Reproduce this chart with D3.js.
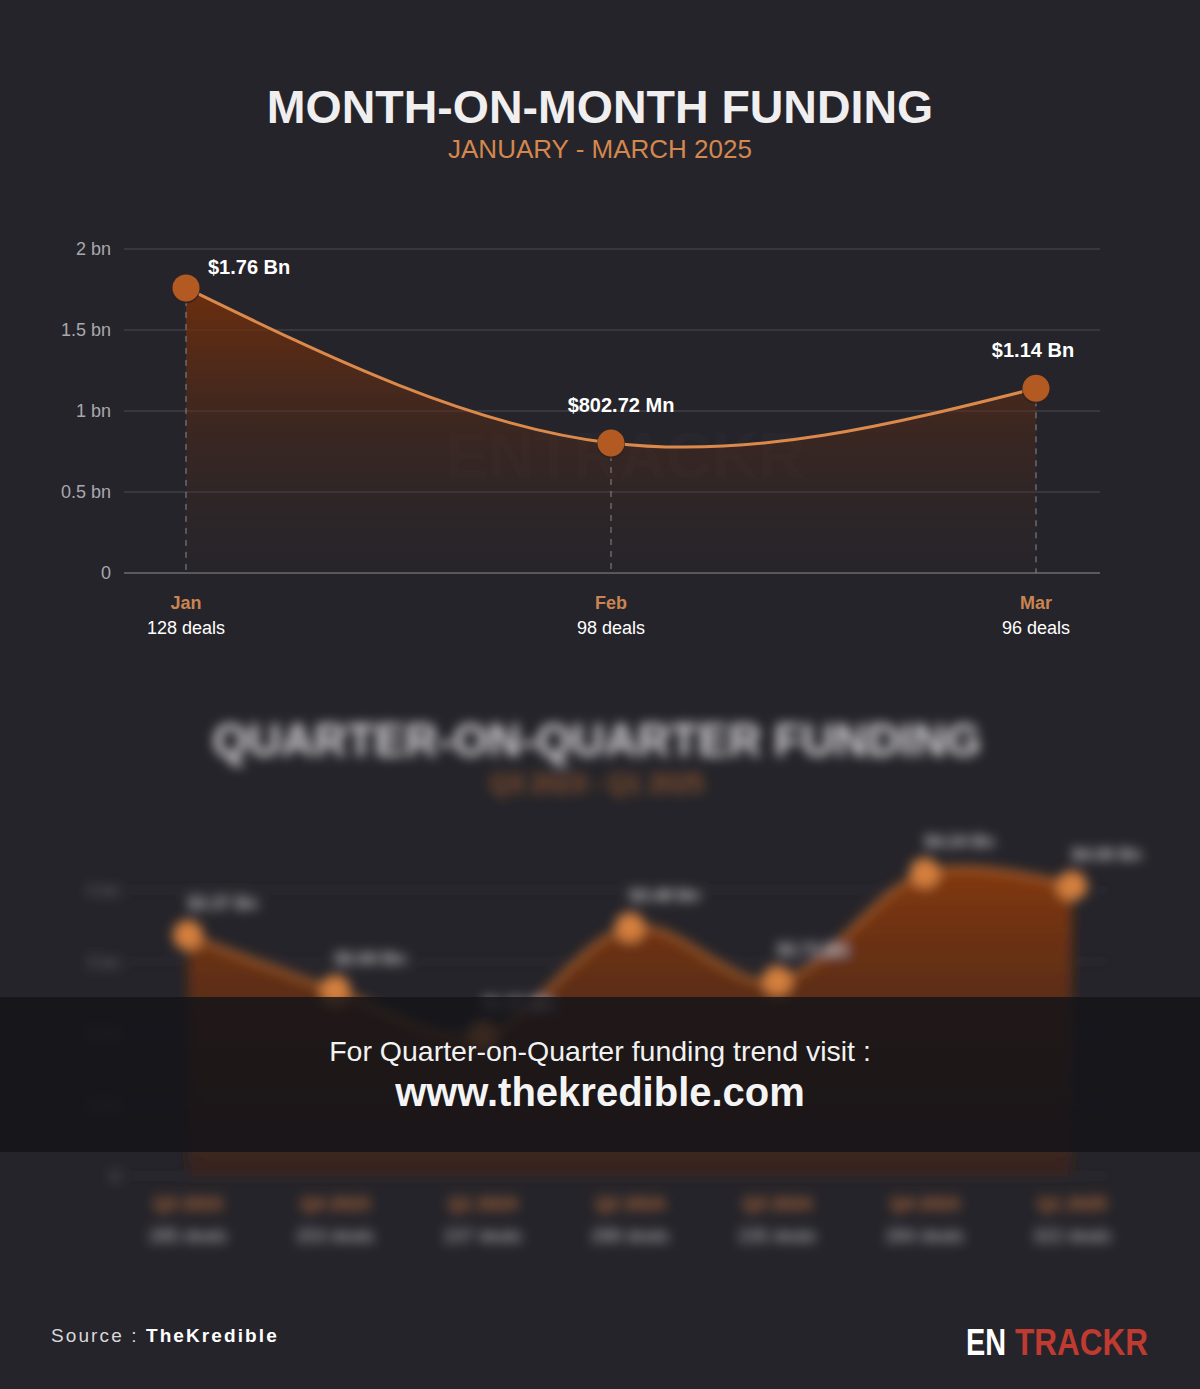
<!DOCTYPE html>
<html><head><meta charset="utf-8">
<script src="https://cdn.jsdelivr.net/npm/d3@7"></script>
<style>
html,body{margin:0;padding:0;background:#25242a;}
svg{display:block;font-family:"Liberation Sans",Arial,Helvetica,sans-serif;}
</style>
</head><body>
<svg id="c" width="1200" height="1389"></svg>
<script>
// ---- Month-on-month data ----
const months = ["Jan", "Feb", "Mar"];
const monthDeals = ["128 deals", "98 deals", "96 deals"];
const monthFunding = [1.76, 0.80272, 1.14]; // in $ bn
const monthLabels = ["$1.76 Bn", "$802.72 Mn", "$1.14 Bn"];
const yTicks = [0, 0.5, 1, 1.5, 2];
const yTickLabels = ["0", "0.5 bn", "1 bn", "1.5 bn", "2 bn"];

// ---- Quarter-on-quarter (blurred teaser) data ----
const quarters = ["Q3 2023", "Q4 2023", "Q1 2024", "Q2 2024", "Q3 2024", "Q4 2024", "Q1 2025"];
const quarterDeals = ["285 deals", "253 deals", "237 deals", "288 deals", "235 deals", "284 deals", "322 deals"];
const quarterFunding = [3.37, 2.60, 1.97, 3.48, 2.73, 4.24, 4.06];
const quarterLabels = ["$3.37 Bn", "$2.60 Bn", "$1.97 Bn", "$3.48 Bn", "$2.73 Bn", "$4.24 Bn", "$4.06 Bn"];
const qTicks = [0, 1, 2, 3, 4];
const qTickLabels = ["0", "1 bn", "2 bn", "3 bn", "4 bn"];

const svg = d3.select("#c");
const W = 1200, H = 1389;
svg.append("rect").attr("width", W).attr("height", H).attr("fill", "#25242a");

const defs = svg.append("defs");
const g1 = defs.append("linearGradient").attr("id", "areaGrad")
  .attr("gradientUnits", "userSpaceOnUse").attr("x1", 0).attr("x2", 0).attr("y1", 288).attr("y2", 573);
g1.append("stop").attr("offset", "0%").attr("stop-color", "#7a3008").attr("stop-opacity", 0.85);
g1.append("stop").attr("offset", "55%").attr("stop-color", "#5a2a14").attr("stop-opacity", 0.35);
g1.append("stop").attr("offset", "100%").attr("stop-color", "#3a2a28").attr("stop-opacity", 0.1);

const g2 = defs.append("linearGradient").attr("id", "areaGrad2")
  .attr("gradientUnits", "userSpaceOnUse").attr("x1", 0).attr("x2", 0).attr("y1", 860).attr("y2", 1176);
g2.append("stop").attr("offset", "0%").attr("stop-color", "#8a3a0a").attr("stop-opacity", 0.95);
g2.append("stop").attr("offset", "100%").attr("stop-color", "#4a2414").attr("stop-opacity", 0.5);

defs.append("filter").attr("id", "blur").attr("x", "-10%").attr("y", "-10%").attr("width", "120%").attr("height", "120%")
  .append("feGaussianBlur").attr("stdDeviation", 6);

// ---- Titles ----
svg.append("text").attr("x", 600).attr("y", 123).attr("text-anchor", "middle")
  .attr("font-size", 46.5).attr("font-weight", "bold").attr("fill", "#f0eeee")
  .text("MONTH-ON-MONTH FUNDING");
svg.append("text").attr("x", 600).attr("y", 158).attr("text-anchor", "middle")
  .attr("font-size", 26).attr("fill", "#d4874e")
  .text("JANUARY - MARCH 2025");

// ---- Top chart ----
const x = d3.scalePoint().domain(months).range([186, 1036]);
const y = d3.scaleLinear().domain([0, 2]).range([573, 249]);
const gridX0 = 124, gridX1 = 1100;

const gTop = svg.append("g");
gTop.selectAll("line.grid").data(yTicks).join("line")
  .attr("x1", gridX0).attr("x2", gridX1)
  .attr("y1", d => y(d)).attr("y2", d => y(d))
  .attr("stroke", d => d === 0 ? "#5a5960" : "#4c4b52").attr("stroke-width", d => d === 0 ? 2 : 1);
gTop.selectAll("text.ytick").data(yTicks).join("text")
  .attr("x", 111).attr("y", d => y(d) + 6).attr("text-anchor", "end")
  .attr("font-size", 18).attr("fill", "#a9a8ad")
  .text((d, i) => yTickLabels[i]);

// watermark
gTop.append("text").attr("x", 625).attr("y", 478).attr("text-anchor", "middle")
  .attr("font-size", 64).attr("font-weight", "bold").attr("fill", "#ffffff").attr("opacity", 0.012)
  .text("ENTRACKR");

const pts = months.map((m, i) => [x(m), y(monthFunding[i])]);
const area = d3.area().x(d => d[0]).y0(y(0)).y1(d => d[1]).curve(d3.curveNatural);
const line = d3.line().x(d => d[0]).y(d => d[1]).curve(d3.curveNatural);

gTop.append("path").attr("d", area(pts)).attr("fill", "url(#areaGrad)");
gTop.selectAll("line.drop").data(pts).join("line")
  .attr("x1", d => d[0]).attr("x2", d => d[0]).attr("y1", d => d[1]).attr("y2", y(0))
  .attr("stroke", "#8a8990").attr("stroke-width", 1).attr("stroke-dasharray", "6,6");
gTop.append("path").attr("d", line(pts)).attr("fill", "none")
  .attr("stroke", "#dc8a4c").attr("stroke-width", 3);
gTop.selectAll("circle.pt").data(pts).join("circle")
  .attr("cx", d => d[0]).attr("cy", d => d[1] + 1.5).attr("r", 14).attr("fill", "#2a2224").attr("opacity", 0.8);
gTop.selectAll("circle.pt2").data(pts).join("circle")
  .attr("cx", d => d[0]).attr("cy", d => d[1]).attr("r", 13.5).attr("fill", "#b35a22");

gTop.selectAll("text.val").data(pts).join("text")
  .attr("x", (d, i) => i === 0 ? d[0] + 22 : d[0] + (i === 1 ? 10 : -3))
  .attr("y", (d, i) => i === 0 ? d[1] - 14 : d[1] - 31)
  .attr("text-anchor", (d, i) => i === 0 ? "start" : "middle")
  .attr("font-size", 20).attr("font-weight", "bold").attr("fill", "#ffffff")
  .text((d, i) => monthLabels[i]);

gTop.selectAll("text.mon").data(months).join("text")
  .attr("x", d => x(d)).attr("y", 609).attr("text-anchor", "middle")
  .attr("font-size", 18).attr("font-weight", "bold").attr("fill", "#c98452")
  .text(d => d);
gTop.selectAll("text.deal").data(months).join("text")
  .attr("x", d => x(d)).attr("y", 634).attr("text-anchor", "middle")
  .attr("font-size", 18).attr("fill", "#ffffff")
  .text((d, i) => monthDeals[i]);

// ---- Bottom blurred chart ----
const bot = svg.append("g").attr("filter", "url(#blur)");
bot.append("text").attr("x", 597).attr("y", 756).attr("text-anchor", "middle")
  .attr("font-size", 45.5).attr("font-weight", "bold").attr("fill", "#d8d6d8")
  .text("QUARTER-ON-QUARTER FUNDING");
bot.append("text").attr("x", 597).attr("y", 792).attr("text-anchor", "middle")
  .attr("font-size", 25).attr("fill", "#b8672e")
  .text("Q3 2023 - Q1 2025");

const xq = d3.scalePoint().domain(quarters).range([188, 1072]);
const yq = d3.scaleLinear().domain([0, 4]).range([1176, 890]);
bot.selectAll("line.qg").data(qTicks).join("line")
  .attr("x1", 130).attr("x2", 1110).attr("y1", d => yq(d)).attr("y2", d => yq(d))
  .attr("stroke", "#46454c").attr("stroke-width", 2).attr("stroke-dasharray", "4,8");
bot.selectAll("text.qt").data(qTicks).join("text")
  .attr("x", 120).attr("y", d => yq(d) + 6).attr("text-anchor", "end")
  .attr("font-size", 17).attr("fill", "#6e6d72")
  .text((d, i) => qTickLabels[i]);

const qpts = quarters.map((q, i) => [xq(q), yq(quarterFunding[i])]);
const qarea = d3.area().x(d => d[0]).y0(yq(0)).y1(d => d[1]).curve(d3.curveCardinal.tension(0));
const qline = d3.line().x(d => d[0]).y(d => d[1]).curve(d3.curveCardinal.tension(0));
bot.append("path").attr("d", qarea(qpts)).attr("fill", "url(#areaGrad2)");
bot.append("path").attr("d", qline(qpts)).attr("fill", "none").attr("stroke", "#b8662c").attr("stroke-width", 4);
bot.selectAll("circle.q").data(qpts).join("circle")
  .attr("cx", d => d[0]).attr("cy", d => d[1]).attr("r", 15).attr("fill", "#d47f3c");
bot.selectAll("text.qv").data(qpts).join("text")
  .attr("x", d => d[0] + 35).attr("y", d => d[1] - 26).attr("text-anchor", "middle")
  .attr("font-size", 17).attr("font-weight", "bold").attr("fill", "#c8c6c8")
  .text((d, i) => quarterLabels[i]);
bot.selectAll("text.ql").data(quarters).join("text")
  .attr("x", d => xq(d)).attr("y", 1210).attr("text-anchor", "middle")
  .attr("font-size", 18).attr("font-weight", "bold").attr("fill", "#b46a3a")
  .text(d => d);
bot.selectAll("text.qd").data(quarters).join("text")
  .attr("x", d => xq(d)).attr("y", 1242).attr("text-anchor", "middle")
  .attr("font-size", 18).attr("fill", "#c0bfc2")
  .text((d, i) => quarterDeals[i]);

// ---- Overlay band ----
svg.append("rect").attr("x", 0).attr("y", 997).attr("width", W).attr("height", 155)
  .attr("fill", "#141318").attr("opacity", 0.82);
svg.append("text").attr("x", 600).attr("y", 1061).attr("text-anchor", "middle")
  .attr("font-size", 28.5).attr("fill", "#f2f2f2")
  .text("For Quarter-on-Quarter funding trend visit :");
svg.append("text").attr("x", 600).attr("y", 1106).attr("text-anchor", "middle")
  .attr("font-size", 40).attr("font-weight", "bold").attr("fill", "#f4f4f4")
  .text("www.thekredible.com");

// ---- Footer ----
const src = svg.append("text").attr("x", 51).attr("y", 1342).attr("font-size", 19)
  .attr("letter-spacing", 2.1).attr("fill", "#d8d8da");
src.append("tspan").text("Source : ");
src.append("tspan").attr("font-weight", "bold").attr("fill", "#ffffff").text("TheKredible");

svg.append("text").attr("x", 966).attr("y", 1355).attr("font-size", 37)
  .attr("font-weight", "bold").attr("fill", "#ffffff")
  .attr("textLength", 40).attr("lengthAdjust", "spacingAndGlyphs").text("EN");
svg.append("text").attr("x", 1015).attr("y", 1355).attr("font-size", 37)
  .attr("font-weight", "bold").attr("fill", "#bf3a30")
  .attr("textLength", 133).attr("lengthAdjust", "spacingAndGlyphs").text("TRACKR");
</script>
</body></html>
